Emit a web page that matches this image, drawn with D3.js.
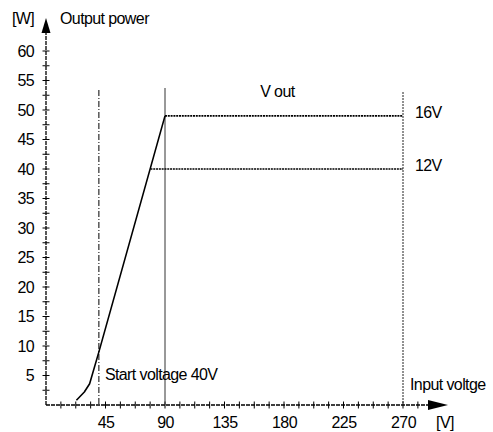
<!DOCTYPE html>
<html><head><meta charset="utf-8">
<script src="https://cdn.jsdelivr.net/npm/d3@7"></script>
<style>
body{margin:0;background:#fff;}
text{font-family:"Liberation Sans",Arial,sans-serif;fill:#000;}
</style></head>
<body><svg id="c" width="493" height="432"></svg>
<script>
// ---- data ----
const xTickValues = [45, 90, 135, 180, 225, 270];
const yTickValues = [5, 10, 15, 20, 25, 30, 35, 40, 45, 50, 55, 60];
const riseCurve = [[23, 0.8], [29, 2.2], [33, 3.6], [40, 9], [90, 49]];
const out16V = [[90, 49], [270, 49]];
const out12V = [[79, 40], [270, 40]];
const startVoltage = 40;
const vLines = [90, 270];
const seriesLabels = ["16V", "12V"];
const seriesLevels = [49, 40];

const svg = d3.select("#c");
const x = d3.scaleLinear().domain([0, 270]).range([46, 403]);
const y = d3.scaleLinear().domain([0, 60]).range([405, 51]);
const x0 = x(0), y0 = y(0);

// axes lines
svg.append("line").attr("x1", x0).attr("x2", 430).attr("y1", y0).attr("y2", y0)
  .attr("stroke", "#000").attr("stroke-width", 1.3).attr("stroke-dasharray", "4,1");
svg.append("line").attr("x1", x0).attr("x2", x0).attr("y1", y0).attr("y2", 32)
  .attr("stroke", "#000").attr("stroke-width", 1.3).attr("stroke-dasharray", "4,1");
// arrows
svg.append("path").attr("d", `M${x0},18 L${x0-4.5},33 L${x0+4.5},33 Z`).attr("fill", "#000");
svg.append("path").attr("d", `M448,${y0} L428,${y0-5} L428,${y0+5} Z`).attr("fill", "#000");

// minor ticks
const xMinor = d3.range(1, 26).map(i => i * 270 / 24);
svg.append("g").selectAll("line").data(xMinor).join("line")
  .attr("x1", d => x(d)).attr("x2", d => x(d)).attr("y1", y0 - 3.5).attr("y2", y0 + 3.5)
  .attr("stroke", "#000");
const yMinor = d3.range(1, 25).map(i => i * 2.5);
svg.append("g").selectAll("line").data(yMinor).join("line")
  .attr("x1", x0 - 3.5).attr("x2", x0 + 3.5).attr("y1", d => y(d)).attr("y2", d => y(d))
  .attr("stroke", "#000");

// axis labels via d3 axes (no domain / ticks drawn)
const xAxis = svg.append("g").attr("transform", `translate(0,${y0})`)
  .call(d3.axisBottom(x).tickValues(xTickValues).tickSize(0).tickPadding(12));
const yAxis = svg.append("g").attr("transform", `translate(${x0},0)`)
  .call(d3.axisLeft(y).tickValues(yTickValues).tickSize(0).tickPadding(12));
[xAxis, yAxis].forEach(g => {
  g.select(".domain").remove();
  g.selectAll("text").attr("font-size", 16).attr("letter-spacing", "-0.6")
    .style("font-family", '"Liberation Sans",Arial,sans-serif').attr("fill", "#000");
});

// vertical reference lines
svg.append("line").attr("x1", x(startVoltage)).attr("x2", x(startVoltage))
  .attr("y1", 90).attr("y2", y0).attr("stroke", "#000").attr("stroke-width", 1)
  .attr("stroke-dasharray", "6,2,1,2");
svg.append("line").attr("x1", x(vLines[0])).attr("x2", x(vLines[0]))
  .attr("y1", 88).attr("y2", y0).attr("stroke", "#333").attr("stroke-width", 1);
svg.append("line").attr("x1", x(vLines[1])).attr("x2", x(vLines[1]))
  .attr("y1", 92).attr("y2", y0).attr("stroke", "#222").attr("stroke-width", 1)
  .attr("stroke-dasharray", "2,1");

// data lines
const line = d3.line().x(d => x(d[0])).y(d => y(d[1]));
svg.append("path").attr("d", line(riseCurve)).attr("fill", "none")
  .attr("stroke", "#000").attr("stroke-width", 1.6).attr("stroke-linejoin", "round");
[out16V, out12V].forEach(s => {
  svg.append("path").attr("d", line(s)).attr("fill", "none")
    .attr("stroke", "#000").attr("stroke-width", 1.7).attr("stroke-dasharray", "2,0.8");
});

// annotations
const txt = (t, xx, yy, anchor) => svg.append("text").text(t).attr("x", xx).attr("y", yy)
  .attr("font-size", 16).attr("letter-spacing", "-0.6").attr("text-anchor", anchor || "start")
  .attr("dominant-baseline", "middle");
txt("[W]", 12, 20);
txt("Output power", 60, 20);
txt("V out", x(175), 93, "middle");
seriesLabels.forEach((l, i) => txt(l, 415, y(seriesLevels[i]) - 2));
txt("Start voltage " + startVoltage + "V", x(startVoltage) + 6, y(5));
txt("Input voltge", 410, 386);
txt("[V]", 445, 424, "middle");
</script></body></html>
